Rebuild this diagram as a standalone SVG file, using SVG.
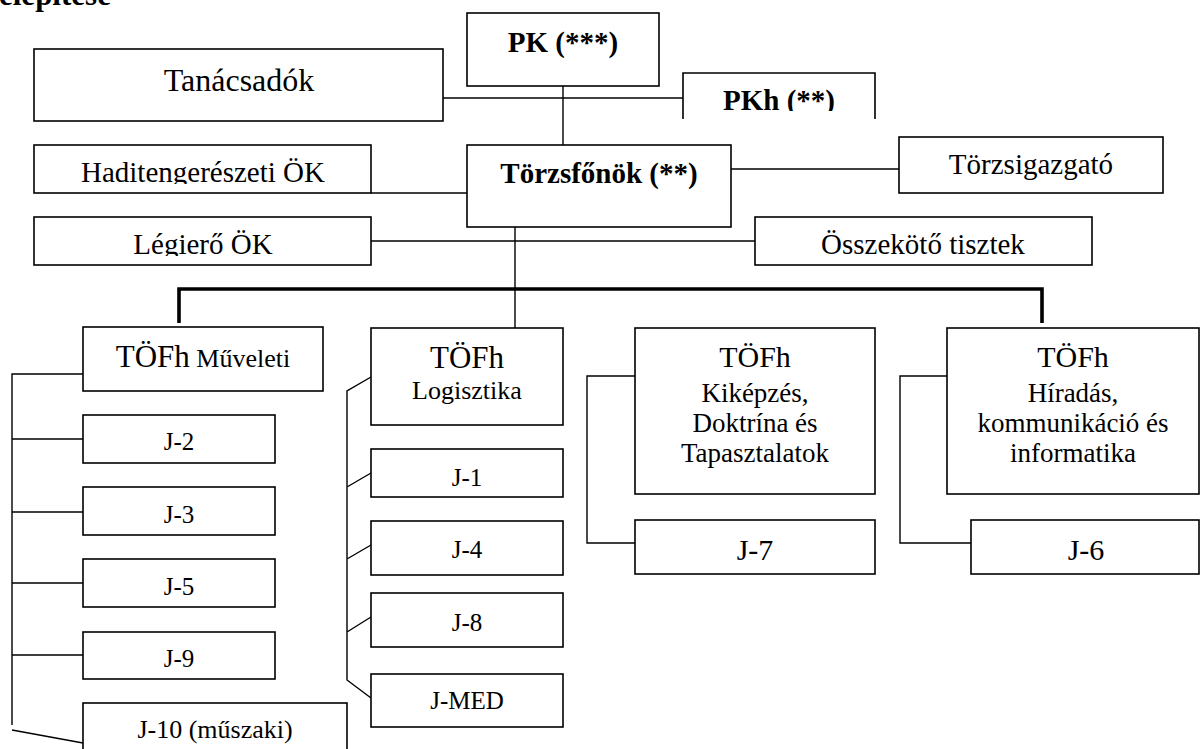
<svg xmlns="http://www.w3.org/2000/svg" width="1201" height="749" viewBox="0 0 1201 749">
<style>
.box{fill:#fff;stroke:#000;stroke-width:1.6}
.ln{fill:none;stroke:#000;stroke-width:1.4}
.bus{fill:none;stroke:#000;stroke-width:3.6}
text{font-family:"Liberation Serif","Times New Roman",serif;fill:#000;text-anchor:middle}
.b{font-weight:bold}
.s{font-size:25px}
.m{font-size:29px}
.k{font-size:27px}
</style>
<defs>
<clipPath id="cPKh"><rect x="683" y="60" width="200" height="51"/></clipPath>
<clipPath id="cHad"><rect x="30" y="140" width="350" height="44"/></clipPath>
<clipPath id="cLeg"><rect x="30" y="210" width="350" height="46"/></clipPath>
</defs>
<rect width="1201" height="749" fill="#fff"/>
<text class="b" x="-1" y="5" style="font-size:31px;text-anchor:start">elépítése</text>
<g id="connectors">
<path class="ln" d="M443 98H683"/>
<path class="ln" d="M563 86V145"/>
<path class="ln" d="M731 169H899"/>
<path class="ln" d="M371 193H467"/>
<path class="ln" d="M371 241H755"/>
<path class="ln" d="M515 227V328"/>
<path class="bus" d="M179 323V289H1042V323"/>
<path class="ln" d="M83 374H12V725M12 439H83M12 512H83M12 583H83M12 655H83M12 730L83 743"/>
<path class="ln" d="M371 377L347 391V680L371 698M347 487L371 473M347 559L371 545M347 632L371 617"/>
<path class="ln" d="M635 376H587V543H635"/>
<path class="ln" d="M947 376H900V543H971"/>
</g>
<g id="n-tanacsadok"><rect class="box" x="34" y="49" width="409" height="72"/><text x="239" y="91" style="font-size:32px">Tanácsadók</text></g>
<g id="n-pk"><rect class="box" x="467" y="13" width="192" height="73"/><text class="b m" x="563" y="52">PK (***)</text></g>
<g id="n-pkh"><path class="box" d="M683 119V73H875V119"/><text class="b m" x="779" y="110" clip-path="url(#cPKh)">PKh (**)</text></g>
<g id="n-hadi"><rect class="box" x="34" y="145" width="337" height="48"/><text class="m" x="203" y="182" clip-path="url(#cHad)">Haditengerészeti ÖK</text></g>
<g id="n-torzsfonok"><rect class="box" x="467" y="145" width="264" height="82"/><text class="b m" x="599" y="183">Törzsfőnök (**)</text></g>
<g id="n-torzsigazgato"><rect class="box" x="899" y="137" width="264" height="56"/><text class="m" x="1031" y="174">Törzsigazgató</text></g>
<g id="n-legiero"><rect class="box" x="34" y="217" width="337" height="48"/><text class="m" x="203" y="254" clip-path="url(#cLeg)">Légierő ÖK</text></g>
<g id="n-osszekoto"><rect class="box" x="755" y="217" width="337" height="48"/><text class="m" x="923" y="254">Összekötő tisztek</text></g>
<g id="n-muveleti"><rect class="box" x="83" y="327" width="240" height="64"/><text x="203" y="367"><tspan style="font-size:31px">TÖFh</tspan><tspan style="font-size:26px"> Műveleti</tspan></text></g>
<g id="n-j2"><rect class="box" x="83" y="415" width="192" height="48"/><text class="s" x="179" y="450">J-2</text></g>
<g id="n-j3"><rect class="box" x="83" y="487" width="192" height="48"/><text class="s" x="179" y="523">J-3</text></g>
<g id="n-j5"><rect class="box" x="83" y="559" width="192" height="48"/><text class="s" x="179" y="595">J-5</text></g>
<g id="n-j9"><rect class="box" x="83" y="632" width="192" height="47"/><text class="s" x="179" y="667">J-9</text></g>
<g id="n-j10"><rect class="box" x="83" y="703" width="264" height="60"/><text x="215" y="738" style="font-size:26px">J-10 (műszaki)</text></g>
<g id="n-logisztika"><rect class="box" x="371" y="328" width="192" height="97"/><text x="467" y="368" style="font-size:31px">TÖFh</text><text x="467" y="399" style="font-size:26px">Logisztika</text></g>
<g id="n-j1"><rect class="box" x="371" y="449" width="192" height="48"/><text class="s" x="467" y="486">J-1</text></g>
<g id="n-j4"><rect class="box" x="371" y="521" width="192" height="54"/><text class="s" x="467" y="558">J-4</text></g>
<g id="n-j8"><rect class="box" x="371" y="593" width="192" height="54"/><text class="s" x="467" y="631">J-8</text></g>
<g id="n-jmed"><rect class="box" x="371" y="674" width="192" height="53"/><text class="s" x="467" y="709">J-MED</text></g>
<g id="n-kikepzes"><rect class="box" x="635" y="328" width="240" height="166"/><text x="755" y="367" style="font-size:30px">TÖFh</text><text class="k" x="755" y="402">Kiképzés,</text><text class="k" x="755" y="432">Doktrína és</text><text class="k" x="755" y="462">Tapasztalatok</text></g>
<g id="n-j7"><rect class="box" x="635" y="520" width="240" height="54"/><text x="755" y="560" style="font-size:30px">J-7</text></g>
<g id="n-hiradas"><rect class="box" x="947" y="328" width="252" height="166"/><text x="1073" y="367" style="font-size:30px">TÖFh</text><text class="k" x="1073" y="402">Híradás,</text><text class="k" x="1073" y="432">kommunikáció és</text><text class="k" x="1073" y="462">informatika</text></g>
<g id="n-j6"><rect class="box" x="971" y="520" width="228" height="54"/><text x="1086" y="560" style="font-size:30px">J-6</text></g>
</svg>
